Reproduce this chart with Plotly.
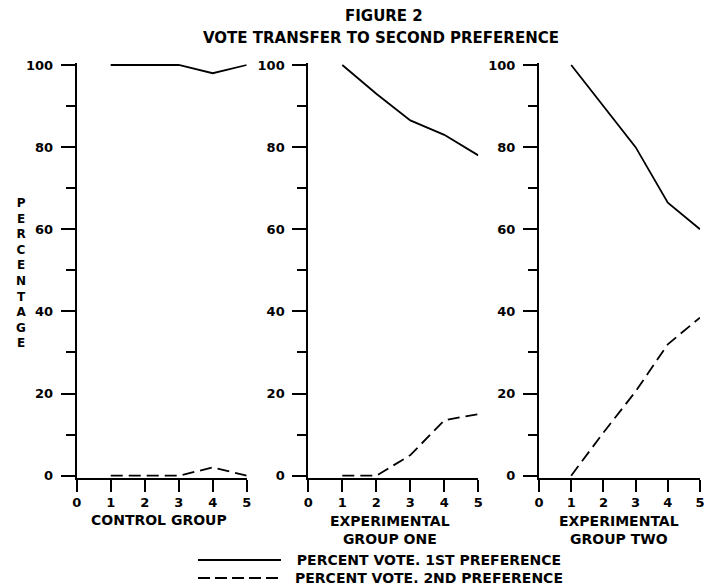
import plotly.graph_objects as go

# ---- data ----
x_vals = [1, 2, 3, 4, 5]
control_first = [100, 100, 100, 98, 100]
control_second = [0, 0, 0, 2, 0]
exp1_first = [100, 93, 86.5, 83, 78]
exp1_second = [0, 0, 5, 13.5, 15]
exp2_first = [100, 90, 80, 66.5, 60]
exp2_second = [0, 10.5, 20.5, 32, 38.5]
x_ticks = [0, 1, 2, 3, 4, 5]
y_ticks = [0, 20, 40, 60, 80, 100]
panel_labels = ["CONTROL GROUP", "EXPERIMENTAL<br>GROUP ONE", "EXPERIMENTAL<br>GROUP TWO"]
legend_labels = ["PERCENT VOTE. 1ST PREFERENCE", "PERCENT VOTE. 2ND PREFERENCE"]
title_lines = ["FIGURE 2", "VOTE TRANSFER TO SECOND PREFERENCE"]
y_title = "PERCENTAGE"

W, H = 706, 586
FONT = "DejaVu Sans"

def px(x):
    return x / W

def py(y):
    return 1 - y / H

x_domains = [[px(76.7), px(246.7)], [px(308.3), px(478.3)], [px(539), px(700)]]
y_domain = [py(477.75), py(62.95)]

series = [(control_first, control_second), (exp1_first, exp1_second), (exp2_first, exp2_second)]

fig = go.Figure()
for i, (first, second) in enumerate(series):
    sfx = "" if i == 0 else str(i + 1)
    fig.add_trace(go.Scatter(x=x_vals, y=first, mode="lines",
                             line=dict(color="black", width=1.8),
                             xaxis="x" + sfx, yaxis="y" + sfx, showlegend=False))
    fig.add_trace(go.Scatter(x=x_vals, y=second, mode="lines",
                             line=dict(color="black", width=1.8, dash="12px,6px"),
                             xaxis="x" + sfx, yaxis="y" + sfx, showlegend=False))

axis_common = dict(showgrid=False, zeroline=False, showline=True, linecolor="black",
                   linewidth=2, ticks="outside", tickcolor="black", tickwidth=2,
                   automargin=False,
                   ticklen=14, tickfont=dict(family=FONT, size=13, color="black", weight="bold"))

layout = dict(width=W, height=H, margin=dict(l=0, r=0, t=0, b=0, autoexpand=False),
              paper_bgcolor="white", plot_bgcolor="white", showlegend=False)

for i in range(3):
    sfx = "" if i == 0 else str(i + 1)
    layout["xaxis" + sfx] = dict(axis_common, domain=x_domains[i], range=[0, 5],
                                 tickvals=x_ticks, anchor="y" + sfx, ticklen=12)
    layout["yaxis" + sfx] = dict(axis_common, domain=y_domain, range=[-0.5, 100.5],
                                 tickvals=y_ticks, anchor="x" + sfx, ticklabelstandoff=5,
                                 minor=dict(ticks="outside", ticklen=9, tickwidth=2,
                                            tickcolor="black", dtick=10, tick0=0))

fig.update_layout(**layout)

ann_objs = []

def add_text(text, x, y, size=15, xanchor="center"):
    ann_objs.append(dict(text=text, x=x, y=y, xref="paper", yref="paper",
                         showarrow=False, xanchor=xanchor, yanchor="middle",
                         font=dict(family=FONT, size=size, color="black", weight="bold")))

add_text(title_lines[0], px(384), py(16))
add_text(title_lines[1], px(381), py(38))
add_text("<br>".join(list(y_title)), px(20.7), py(273), size=12)

label_centers = [159, 390, 619]
for i, lab in enumerate(panel_labels):
    yy = 520 if "<br>" not in lab else 530
    add_text(lab, px(label_centers[i]), py(yy), size=14)

legend_y = [560, 578]
add_text("<br>".join(legend_labels), px(293), py(569), size=14, xanchor="left")
shapes = []
for j in range(len(legend_labels)):
    shapes.append(dict(type="line", xref="paper", yref="paper",
                       x0=px(198), x1=px(281), y0=py(legend_y[j]), y1=py(legend_y[j]),
                       line=dict(color="black", width=1.8,
                                 dash="solid" if j == 0 else "12px,5px")))

fig.update_layout(annotations=ann_objs, shapes=shapes)
fig.write_html("out.html", config={"displayModeBar": False},
               post_script="document.body.style.margin='0';document.body.style.overflow='hidden';")
